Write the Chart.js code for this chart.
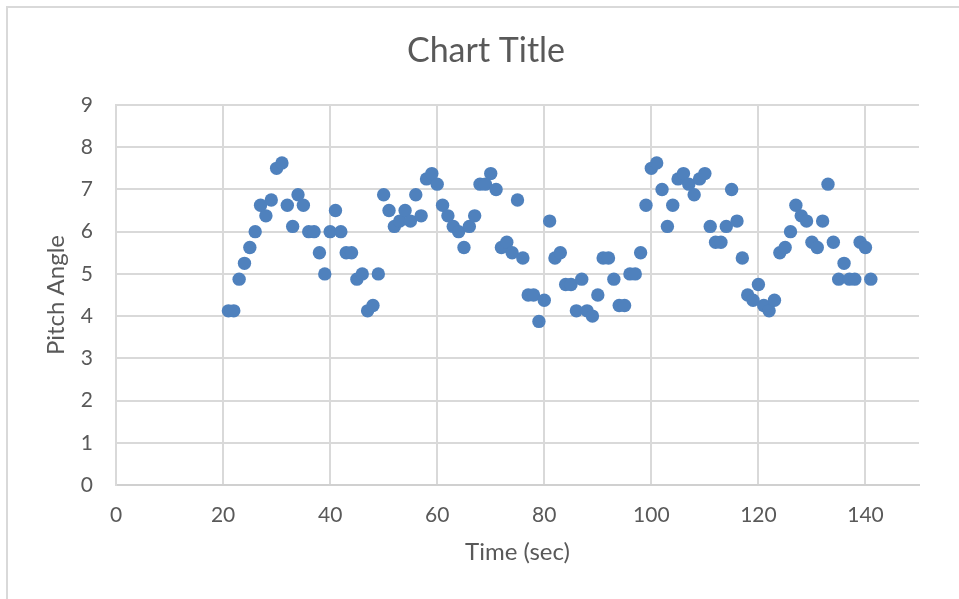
<!DOCTYPE html>
<html>
<head>
<meta charset="utf-8">
<script src="https://cdn.jsdelivr.net/npm/chart.js@4"></script>
<style>
  html, body { margin: 0; padding: 0; background: #fff; }
  #wrap { width: 959px; height: 599px; }
</style>
</head>
<body>
<div id="wrap"><canvas id="chart" width="959" height="599"></canvas></div>
<script>
// data (time in sec, pitch angle)
const times = [];
for (let t = 21; t <= 141; t++) times.push(t);

const pitch = [
  4.125, 4.125, 4.875, 5.25, 5.625, 6, 6.625, 6.375, 6.75, 7.5,      // 21-30
  7.625, 6.625, 6.125, 6.875, 6.625, 6, 6, 5.5, 5, 6,                // 31-40
  6.5, 6, 5.5, 5.5, 4.875, 5, 4.125, 4.25, 5, 6.875,                 // 41-50
  6.5, 6.125, 6.25, 6.5, 6.25, 6.875, 6.375, 7.25, 7.375, 7.125,     // 51-60
  6.625, 6.375, 6.125, 6, 5.625, 6.125, 6.375, 7.125, 7.125, 7.375,  // 61-70
  7, 5.625, 5.75, 5.5, 6.75, 5.375, 4.5, 4.5, 3.875, 4.375,          // 71-80
  6.25, 5.375, 5.5, 4.75, 4.75, 4.125, 4.875, 4.125, 4, 4.5,         // 81-90
  5.375, 5.375, 4.875, 4.25, 4.25, 5, 5, 5.5, 6.625, 7.5,            // 91-100
  7.625, 7, 6.125, 6.625, 7.25, 7.375, 7.125, 6.875, 7.25, 7.375,    // 101-110
  6.125, 5.75, 5.75, 6.125, 7, 6.25, 5.375, 4.5, 4.375, 4.75,        // 111-120
  4.25, 4.125, 4.375, 5.5, 5.625, 6, 6.625, 6.375, 6.25, 5.75,       // 121-130
  5.625, 6.25, 7.125, 5.75, 4.875, 5.25, 4.875, 4.875, 5.75, 5.625,  // 131-140
  4.875                                                              // 141
];

const xTicks = [0, 20, 40, 60, 80, 100, 120, 140];
const yTicks = [0, 1, 2, 3, 4, 5, 6, 7, 8, 9];

const FONT = 'Lato, "Open Sans", sans-serif';
const TEXT = '#595959';
const GRID = '#d9d9d9';

// title + outer frame like the excel chart box
const frame = {
  id: 'frame',
  afterDraw(chart) {
    const {ctx} = chart;
    ctx.save();
    ctx.strokeStyle = GRID;
    ctx.lineWidth = 2;
    ctx.beginPath();
    ctx.moveTo(7, chart.height);
    ctx.lineTo(7, 7);
    ctx.lineTo(chart.width, 7);
    ctx.stroke();

    ctx.fillStyle = TEXT;
    ctx.font = '34px ' + FONT;
    ctx.textAlign = 'center';
    ctx.textBaseline = 'middle';
    ctx.fillText('Chart Title', 486, 51);
    ctx.restore();
  }
};

new Chart(document.getElementById('chart'), {
  type: 'scatter',
  data: {
    datasets: [{
      label: 'Pitch Angle',
      data: times.map((t, i) => ({x: t, y: pitch[i]})),
      backgroundColor: '#4f81bd',
      borderColor: '#4f81bd',
      borderWidth: 0,
      pointRadius: 6.7,
      pointHoverRadius: 6.7
    }]
  },
  plugins: [frame],
  options: {
    responsive: false,
    animation: false,
    events: [],
    layout: { padding: { top: 105, right: 40, bottom: 0, left: 0 } },
    plugins: {
      legend: { display: false },
      tooltip: { enabled: false },
      title: { display: false }
    },
    scales: {
      x: {
        type: 'linear',
        min: 0,
        max: 150,
        afterBuildTicks: (scale) => {
          scale.ticks = xTicks.map(v => ({value: v}));
        },
        afterFit: (scale) => { scale.height = 114; },
        grid: { color: GRID, lineWidth: 2, drawTicks: false },
        border: { color: '#d0d0d0', width: 2 },
        ticks: { color: TEXT, font: { family: FONT, size: 21 }, padding: 18, maxRotation: 0 },
        title: {
          display: true,
          text: 'Time (sec)',
          color: TEXT,
          font: { family: FONT, size: 24 },
          padding: { top: 0, bottom: 32 }
        }
      },
      y: {
        min: 0,
        max: 9,
        afterBuildTicks: (scale) => {
          scale.ticks = yTicks.map(v => ({value: v}));
        },
        afterFit: (scale) => { scale.width = 116; },
        grid: { color: GRID, lineWidth: 2, drawTicks: false },
        border: { color: GRID, width: 2 },
        ticks: { color: TEXT, font: { family: FONT, size: 21 }, padding: 23 },
        title: {
          display: true,
          text: 'Pitch Angle',
          color: TEXT,
          font: { family: FONT, size: 24 },
          padding: { top: 42, bottom: 0 }
        }
      }
    }
  }
});
</script>
</body>
</html>
